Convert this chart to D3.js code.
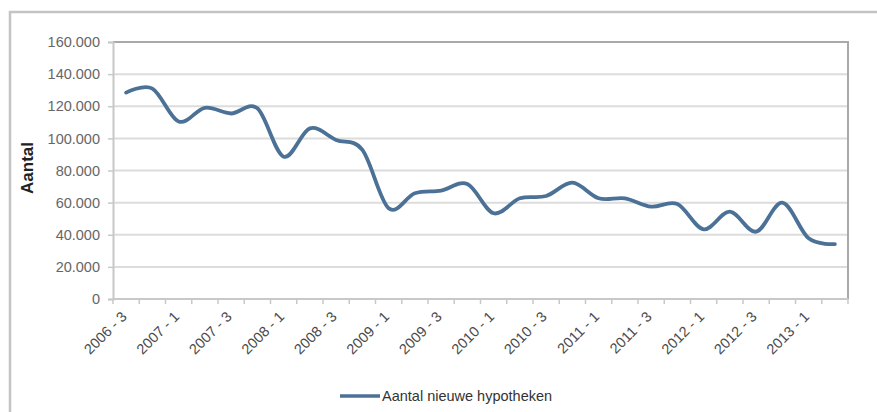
<!DOCTYPE html>
<html>
<head>
<meta charset="utf-8">
<script src="https://cdn.jsdelivr.net/npm/d3@7/dist/d3.min.js"></script>
<style>
  html, body { margin: 0; padding: 0; background: #fff; }
  svg { display: block; }
  text { font-family: "Liberation Sans", Arial, sans-serif; }
</style>
</head>
<body>
<svg id="chart" width="877" height="412"></svg>
<script>
// Quarterly number of new mortgages
const quarters = [
  "2006 - 3", "2006 - 4",
  "2007 - 1", "2007 - 2", "2007 - 3", "2007 - 4",
  "2008 - 1", "2008 - 2", "2008 - 3", "2008 - 4",
  "2009 - 1", "2009 - 2", "2009 - 3", "2009 - 4",
  "2010 - 1", "2010 - 2", "2010 - 3", "2010 - 4",
  "2011 - 1", "2011 - 2", "2011 - 3", "2011 - 4",
  "2012 - 1", "2012 - 2", "2012 - 3", "2012 - 4",
  "2013 - 1", "2013 - 2"
];
const newMortgages = [
  128500, 131000,
  110500, 119000, 115500, 118700,
  88600, 106200, 99000, 92800,
  56500, 65800, 67500, 71600,
  53400, 62700, 64100, 72400,
  62700, 62700, 57500, 59100,
  43400, 54400, 41900, 60000,
  37800, 34200
];
const yTicks = [0, 20000, 40000, 60000, 80000, 100000, 120000, 140000, 160000];
const seriesName = "Aantal nieuwe hypotheken";
const yTitle = "Aantal";

const svg = d3.select("#chart");
const plot = { left: 113, right: 848, top: 42, bottom: 299 };

// Outer chart frame (top and left edges visible)
svg.append("path")
  .attr("d", "M877,12 H10 V412")
  .attr("fill", "none")
  .attr("stroke", "#c4c4c4")
  .attr("stroke-width", 2.5);

const x = d3.scaleBand().domain(quarters).range([plot.left, plot.right]);
const y = d3.scaleLinear().domain([0, 160000]).range([plot.bottom, plot.top]);

const fmt = v => v === 0 ? "0" : d3.format(",")(v).replace(/,/g, ".");

// Horizontal gridlines
svg.append("g")
  .selectAll("line")
  .data(yTicks.filter(t => t > 0 && t < 160000))
  .join("line")
  .attr("x1", plot.left).attr("x2", plot.right)
  .attr("y1", d => y(d)).attr("y2", d => y(d))
  .attr("stroke", "#dcdcdc")
  .attr("stroke-width", 2);

// Plot area frame: top and right
svg.append("path")
  .attr("d", `M${plot.left},${y(160000)} H${plot.right} V${plot.bottom}`)
  .attr("fill", "none")
  .attr("stroke", "#a9a9a9")
  .attr("stroke-width", 2);

// Y axis
const yAxis = d3.axisLeft(y).tickValues(yTicks).tickFormat(fmt).tickSize(5).tickPadding(8);
const gy = svg.append("g").attr("transform", `translate(${plot.left},0)`).call(yAxis);
gy.select(".domain").attr("stroke", "#c8c8c8").attr("stroke-width", 2);
gy.selectAll(".tick line").attr("stroke", "#c8c8c8").attr("stroke-width", 1.5);
gy.selectAll(".tick text")
  .attr("font-size", 14.5)
  .attr("fill", "#666");

// X axis: ticks on category boundaries, labels every other quarter
const gx = svg.append("g").attr("transform", `translate(0,${plot.bottom})`);
gx.append("line")
  .attr("x1", plot.left).attr("x2", plot.right)
  .attr("stroke", "#c8c8c8").attr("stroke-width", 2);
gx.selectAll("line.tick")
  .data(quarters.concat(["end"]))
  .join("line")
  .attr("class", "tick")
  .attr("x1", (d, i) => plot.left + i * x.step())
  .attr("x2", (d, i) => plot.left + i * x.step())
  .attr("y1", 0).attr("y2", 5)
  .attr("stroke", "#c8c8c8").attr("stroke-width", 1.5);
gx.selectAll("text")
  .data(quarters.filter((d, i) => i % 2 === 0))
  .join("text")
  .attr("transform", d => `translate(${x(d) + x.bandwidth() / 2 - 2},${15}) rotate(-45)`)
  .attr("text-anchor", "end")
  .attr("dy", "0.35em")
  .attr("font-size", 14.5)
  .attr("fill", "#4a4a4a")
  .text(d => d);

// Y axis title
svg.append("text")
  .attr("transform", `translate(33,168) rotate(-90)`)
  .attr("text-anchor", "middle")
  .attr("font-size", 17)
  .attr("font-weight", "bold")
  .attr("fill", "#222")
  .text(yTitle);

// Smoothed series line
const line = d3.line()
  .x((d, i) => x(quarters[i]) + x.bandwidth() / 2)
  .y(d => y(d))
  .curve(d3.curveCardinal.tension(0));
svg.append("path")
  .datum(newMortgages)
  .attr("d", line)
  .attr("fill", "none")
  .attr("stroke", "#4c7196")
  .attr("stroke-width", 3.8)
  .attr("stroke-linejoin", "round")
  .attr("stroke-linecap", "round");

// Legend
const lg = svg.append("g").attr("transform", "translate(340,396)");
lg.append("line")
  .attr("x1", 0).attr("x2", 40)
  .attr("stroke", "#4c7196").attr("stroke-width", 3.5);
lg.append("text")
  .attr("x", 42).attr("dy", "0.35em")
  .attr("font-size", 14.5)
  .attr("fill", "#333")
  .text(seriesName);
</script>
</body>
</html>
